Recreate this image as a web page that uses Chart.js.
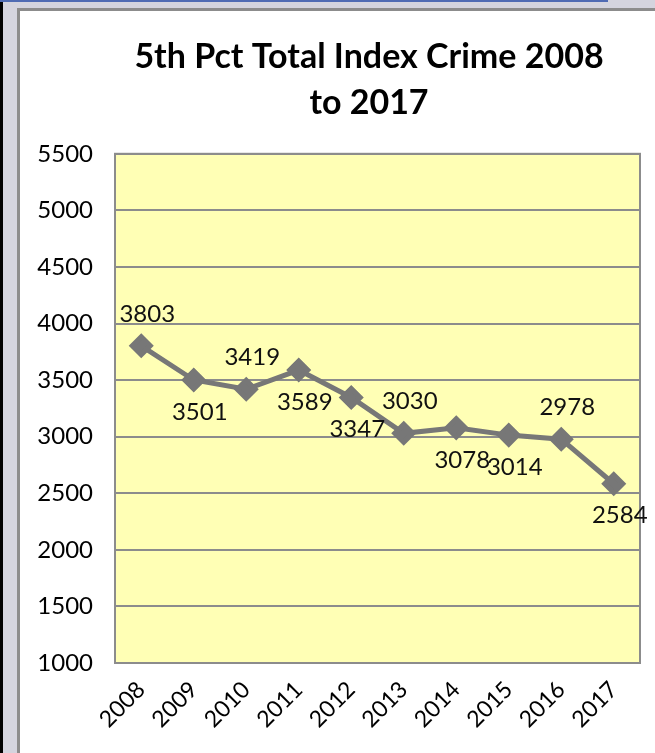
<!DOCTYPE html>
<html>
<head>
<meta charset="utf-8">
<script src="https://cdn.jsdelivr.net/npm/chart.js@4"></script>
<style>
html,body{margin:0;padding:0;width:655px;height:753px;overflow:hidden;background:#d4d4de;}
#blackbar{position:absolute;left:0;top:0;width:3px;height:753px;background:#000;}
#bluebar{position:absolute;left:0;top:0;width:608px;height:2px;background:#4f6bb3;}
#frame{position:absolute;left:17px;top:8px;width:720px;height:780px;background:#fff;border-left:3px solid #8c8c8c;border-top:3px solid #8c8c8c;}
#wrap{position:absolute;left:0;top:0;width:698px;height:742px;}
</style>
</head>
<body>
<div id="blackbar"></div>
<div id="bluebar"></div>
<div id="frame"><div id="wrap"><canvas id="chartCanvas"></canvas></div></div>
<script>
const years = ["2008","2009","2010","2011","2012","2013","2014","2015","2016","2017"];
const crimes = [3803,3501,3419,3589,3347,3030,3078,3014,2978,2584];
const labelSide = ["up","down","up","down","down","up","down","down","up","down"];

const yMin = 1000, yMax = 5500, yStep = 500;

// data labels, above or below each point
const valueLabels = {
id:"valueLabels",
afterDatasetsDraw(chart){
const ctx = chart.ctx;
const meta = chart.getDatasetMeta(0);
ctx.save();
ctx.font = "24px Lato";
ctx.fillStyle = "#111";
ctx.textAlign = "center";
ctx.textBaseline = "middle";
meta.data.forEach((pt,i)=>{
const dy = labelSide[i]=="up" ? -32 : 32;
ctx.fillText(String(crimes[i]), pt.x+6, pt.y+dy);
});
ctx.restore();
}
};

const ctx = document.getElementById("chartCanvas");

new Chart(ctx,{
type:"line",
data:{
labels: years,
datasets:[{
label:"Total Index Crime",
data: crimes,
borderColor:"#777777",
backgroundColor:"#777777",
borderWidth:5,
pointStyle:"rectRot",
pointRadius:9,
pointHoverRadius:9,
tension:0
}]
},
options:{
responsive:true,
maintainAspectRatio:false,
animation:false,
layout:{padding:0},
plugins:{
legend:{display:false},
tooltip:{enabled:false},
title:{
display:true,
text:["5th Pct Total Index Crime 2008","to 2017"],
color:"#000",
font:{family:"Lato",size:34,weight:"bold",lineHeight:1.35},
padding:{top:23,bottom:28}
}
},
scales:{
x:{
offset:true,
grid:{display:false,drawTicks:false},
border:{display:true,color:"#8c8c8c",width:2},
ticks:{color:"#000",font:{family:"Lato",size:23},minRotation:45,maxRotation:45,padding:13},
afterFit(scale){scale.height = 90;}
},
y:{
min:yMin,max:yMax,
grid:{color:"#8c8c8c",lineWidth:2,drawTicks:false},
border:{display:true,color:"#8c8c8c",width:2},
ticks:{stepSize:yStep,color:"#000",font:{family:"Lato",size:24},padding:22,
callback:(v)=>String(v)},
afterFit(scale){scale.width = 95;}
},
// empty right margin so the title stays centred on the whole chart
yRight:{
position:"right",
min:yMin,max:yMax,
grid:{display:false,drawTicks:false},
border:{display:false},
ticks:{display:false},
afterFit(scale){scale.width = 78;}
}
}
},
plugins:[valueLabels,{
id:"plotBg",
beforeDraw(chart){
const a = chart.chartArea;
const c = chart.ctx;
c.save();
c.fillStyle = "#ffffb5";
c.fillRect(a.left,a.top,a.right-a.left,a.bottom-a.top);
c.strokeStyle = "#8c8c8c";
c.lineWidth = 2;
c.strokeRect(a.left,a.top,a.right-a.left,a.bottom-a.top);
c.restore();
}
}]
});
</script>
</body>
</html>
